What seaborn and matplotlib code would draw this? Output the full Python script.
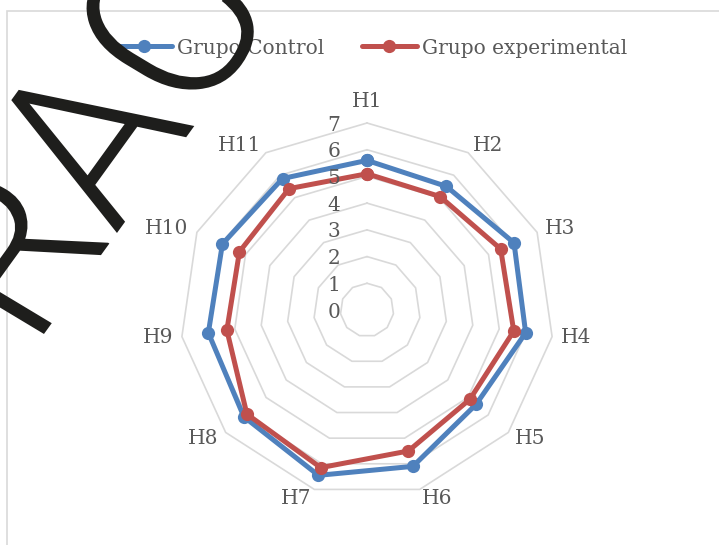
import numpy as np
import pandas as pd
import matplotlib
matplotlib.use("Agg")
import matplotlib.pyplot as plt
from matplotlib.patches import Rectangle, PathPatch
from matplotlib.textpath import TextPath
from matplotlib.font_manager import FontProperties, fontManager
from matplotlib.transforms import Affine2D
import seaborn as sns

# Item labels and mean scores per group
items = ["H1", "H2", "H3", "H4", "H5", "H6", "H7", "H8", "H9", "H10", "H11"]
control = [5.6, 5.5, 6.05, 6.0, 5.4, 6.1, 6.45, 6.1, 6.0, 5.95, 5.85]
experimental = [5.1, 5.05, 5.5, 5.55, 5.1, 5.5, 6.15, 5.95, 5.3, 5.25, 5.4]
groups = ["Grupo Control", "Grupo experimental"]
levels = [0, 1, 2, 3, 4, 5, 6, 7]
stamp = "RAC"

BLUE = "#4F81BD"
RED = "#C0504D"
GRID = "#D9D9D9"
TEXT = "#595959"
INK = "#1E1E1C"
SERIF = "DejaVu Serif"
W, H = 719, 545

sns.set_theme(style="white")
plt.rcParams["font.family"] = [SERIF, "DejaVu Sans"]

n = len(items)
angles = np.arange(n) * 2 * np.pi / n
closed_angles = np.append(angles, 2 * np.pi)

rows = []
for g, vals in zip(groups, [control, experimental]):
    for a, v in zip(closed_angles, vals + vals[:1]):
        rows.append({"angle": a, "score": v, "grupo": g})
df = pd.DataFrame(rows)

fig = plt.figure(figsize=(W / 100, H / 100), dpi=100)
fig.patch.set_facecolor("white")

# chart area outline (runs past the right and bottom edges)
fig.add_artist(Rectangle((7 / W, -0.2), 1.5, 0.2 + (1 - 11 / H),
                         transform=fig.transFigure, fill=False,
                         edgecolor=GRID, linewidth=1.2, zorder=0))

cx, cy, R = 367, 310, 187
ax = fig.add_axes([(cx - R) / W, (H - cy - R) / H, 2 * R / W, 2 * R / H],
                  projection="polar")
ax.set_theta_zero_location("N")
ax.set_theta_direction(-1)
ax.grid(False)
ax.spines["polar"].set_visible(False)
ax.patch.set_alpha(0)

# polygonal gridlines
for lv in levels[1:]:
    ax.plot(closed_angles, [lv] * (n + 1), color=GRID, lw=1.2, zorder=1,
            clip_on=False)

sns.lineplot(data=df, x="angle", y="score", hue="grupo", sort=False,
             estimator=None, palette=[BLUE, RED], marker="o", markersize=9.5,
             markeredgewidth=0, linewidth=3.6, ax=ax, zorder=3)
ax.set_xlabel("")
ax.set_ylabel("")
ax.set_xticks([])
ax.set_yticks([])
ax.set_ylim(0, max(levels))
handles, labels = ax.get_legend_handles_labels()
ax.get_legend().remove()

# radial value labels along the first spoke
for lv in levels:
    ax.annotate(str(lv), xy=(0, lv), xytext=(-19, -1.5), textcoords="offset points",
                ha="right", va="center", fontsize=14.5, color=TEXT,
                annotation_clip=False)

# item labels just outside the outer ring
gap = 6.5  # points
for a, lab in zip(angles, items):
    s, c = np.sin(a), np.cos(a)
    ha = "left" if s > 0.1 else ("right" if s < -0.1 else "center")
    va = "bottom" if c > 0.95 else "center"
    g = gap + 2.5 if va == "bottom" else gap
    ax.annotate(lab, xy=(a, max(levels)), xytext=(g * s, g * c),
                textcoords="offset points", ha=ha, va=va, fontsize=14.5,
                color=TEXT, annotation_clip=False)

fig.legend(handles, labels, loc="center", bbox_to_anchor=(372 / W, 1 - 48 / H),
           ncol=2, frameon=False, fontsize=14.5, handlelength=2.7,
           handletextpad=0.25, columnspacing=1.9, labelcolor=TEXT)


# large slanted stamp lettering drawn over the chart
def light_sans():
    named = {"light": 300, "extra light": 200, "ultralight": 200, "normal": 400,
             "regular": 400, "book": 400}
    for fam in ["Roboto", "Lato", "Open Sans", "Inter", "Noto Sans", "DejaVu Sans"]:
        for f in fontManager.ttflist:
            w = f.weight if isinstance(f.weight, int) else named.get(str(f.weight).lower(), 400)
            if f.name == fam and f.style == "normal" and 250 <= w <= 350:
                return FontProperties(fname=f.fname)
    return FontProperties(family="Liberation Sans")


prop = light_sans()
glyph_a = TextPath((0, 0), "A", size=1, prop=prop)
pair = TextPath((0, 0), stamp[:2], size=1, prop=prop)
shift = pair.get_extents().x1 - glyph_a.get_extents().x1
va_ = glyph_a.vertices
top = va_[:, 1].max()
apex_x = va_[va_[:, 1] > top - 0.01, 0].mean()
src = np.array([[apex_x + shift, top, 1.0],
                [va_[:, 0].min() + shift, 0.0, 1.0],
                [va_[:, 0].max() + shift, 0.0, 1.0]])
dst = np.array([[15.0, H - 95.0], [115.0, H - 235.7], [194.3, H - 126.0]])
cx_ = np.linalg.solve(src, dst[:, 0])
cy_ = np.linalg.solve(src, dst[:, 1])
aff = Affine2D.from_values(cx_[0], cy_[0], cx_[1], cy_[1], cx_[2], cy_[2])
word = TextPath((0, 0), stamp, size=1, prop=prop)
fig.add_artist(PathPatch(word, transform=aff, facecolor=INK, edgecolor="none",
                         zorder=10))

fig.savefig("out.png", dpi=100, facecolor="white")
